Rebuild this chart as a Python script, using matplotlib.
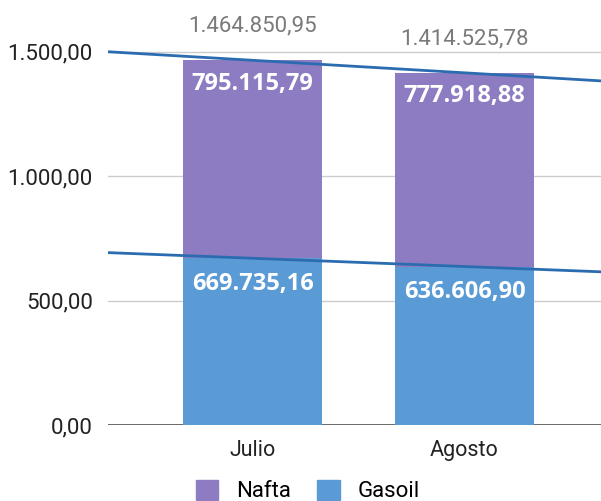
import numpy as np
import matplotlib
matplotlib.use("Agg")
import matplotlib.pyplot as plt
from matplotlib.patches import Patch

plt.rcParams['font.family'] = ['Roboto', 'DejaVu Sans']

# ------------------------------
# data
# ------------------------------
meses  = ["Julio", "Agosto"]
gasoil = [669735.16, 636606.90]
nafta  = [795115.79, 777918.88]
yticks = [0, 500, 1000, 1500]

c_nafta  = "#8e7cc3"
c_gasoil = "#5a9bd5"
c_trend  = "#2b6cb0"


def fmt_es(v):
    s = f"{v:,.2f}"
    return s.replace(",", "X").replace(".", ",").replace("X", ".")


gas_k = np.array(gasoil) / 1000
naf_k = np.array(nafta) / 1000
tot_k = gas_k + naf_k
x = np.arange(len(meses))

fig = plt.figure(figsize=(6.01, 5.01), dpi=100)
ax = fig.add_axes([108 / 601, 76 / 501, 1 - 108 / 601, 425 / 501])

ax.bar(x, gas_k, width=0.656, color=c_gasoil, zorder=2)
ax.bar(x, naf_k, width=0.656, bottom=gas_k, color=c_nafta, zorder=2)

# trend lines
xl = np.array([-0.69, 1.65])
for serie in (gas_k, tot_k):
    m, b = np.polyfit(x, serie, 1)
    ax.plot(xl, m * xl + b, color=c_trend, lw=2, zorder=3)

# labels
lbl = dict(ha="center", va="center", color="white", fontsize=17,
           fontweight="bold", family=["Open Sans", "DejaVu Sans"], zorder=4)
for i in x:
    ax.text(i, gas_k[i] - 102, fmt_es(gasoil[i]), **lbl)
    ax.text(i, tot_k[i] - 95, fmt_es(nafta[i]), **lbl)
    ax.text(i, tot_k[i] + 138, fmt_es(gasoil[i] + nafta[i]), ha="center",
            va="center", color="#7a7a7a", fontsize=16, zorder=4)

ax.set_xlim(-0.682, 1.644)
ax.set_ylim(0, 1707)
ax.set_xticks(x)
ax.set_xticklabels(meses, fontsize=15.5, color="#222222")
ax.set_yticks(yticks)
ax.set_yticklabels([fmt_es(v) for v in yticks], fontsize=16, color="#222222")
ax.tick_params(axis="both", length=0)
ax.tick_params(axis="y", pad=11)
ax.tick_params(axis="x", pad=11)
ax.grid(axis="y", color="#cccccc", lw=1, zorder=0)
for s in ax.spines.values():
    s.set_visible(False)
ax.axhline(0, color="#333333", lw=1.2, zorder=1)

handles = [Patch(color=c_nafta), Patch(color=c_gasoil)]
fig.legend(handles, ["Nafta", "Gasoil"], loc="center", ncol=2,
           bbox_to_anchor=(0.512, 0.02), frameon=False, fontsize=16,
           handlelength=1.0, handleheight=1.0, columnspacing=1.2,
           handletextpad=0.8, borderpad=0)

fig.savefig("out.png", dpi=100)
